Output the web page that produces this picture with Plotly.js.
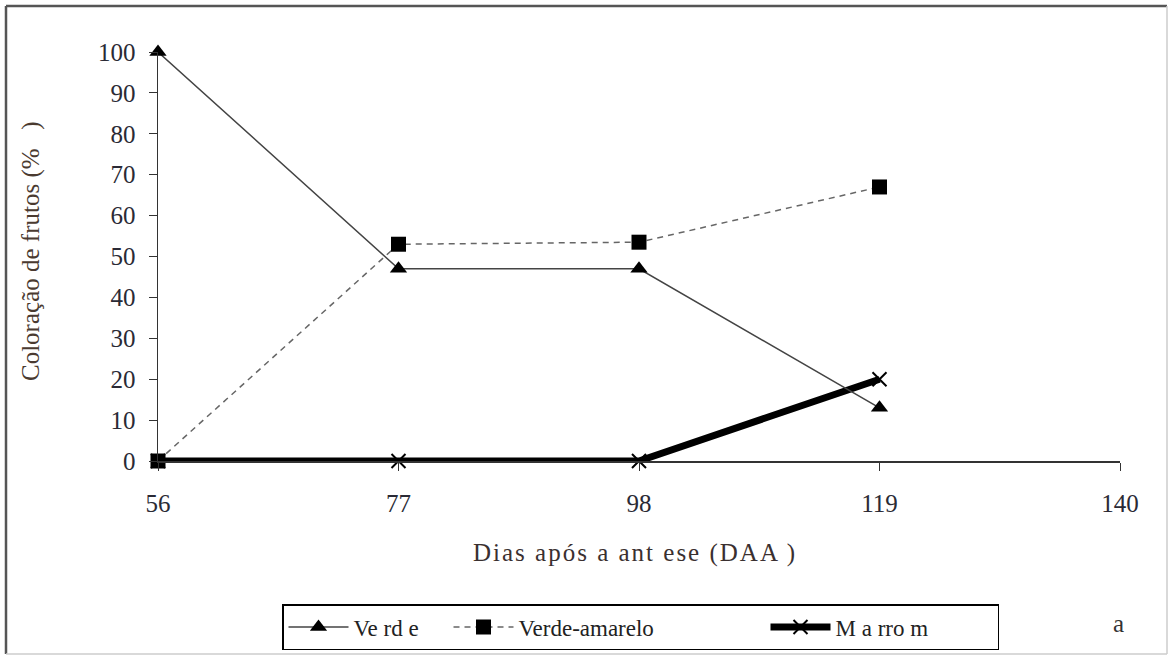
<!DOCTYPE html>
<html><head><meta charset="utf-8">
<script src="https://cdn.plot.ly/plotly-3.0.1.min.js"></script>
<style>body{margin:0;background:#fff}#chart{width:1169px;height:657px}</style>
</head><body><div id="chart"></div>
<script>
const dias = [56, 77, 98, 119];
const verde = [100, 47, 47, 13];
const verdeAmarelo = [0, 53, 53.5, 67];
const marrom = [0, 0, 0, 20];
const xTicks = [56, 77, 98, 119, 140];
const yTicks = [0, 10, 20, 30, 40, 50, 60, 70, 80, 90, 100];
const names = ['Ve rd e', 'Verde-amarelo', 'M a rro m'];

const W = 1169, H = 657, L = 158, R = 49, T = 52, B = 196;
const pw = W - L - R, ph = H - T - B;
const px = x => (x - L) / pw;
const py = y => (H - B - y) / ph;
const font = "Liberation Serif";

const traces = [
  {x: dias, y: marrom, name: names[2], mode: 'lines+markers', legendrank: 3, legendwidth: 157,
   line: {color: '#000', width: 7}, marker: {symbol: 'x-thin-open', size: 14, color: '#000', line: {width: 2, color: '#000'}}, cliponaxis: false},
  {x: dias, y: verde, name: names[0], mode: 'lines+markers', legendrank: 1, legendwidth: 90,
   line: {color: '#444', width: 1.5}, marker: {symbol: 'triangle-up', size: 15, color: '#000'}, cliponaxis: false},
  {x: dias, y: verdeAmarelo, name: names[1], mode: 'lines+markers', legendrank: 2, legendwidth: 242,
   line: {color: '#666', width: 1.5, dash: '6px,5px'}, marker: {symbol: 'square', size: 15, color: '#000'}, cliponaxis: false}
];

const layout = {
  width: W, height: H,
  margin: {l: L, r: R, t: T, b: B, autoexpand: false},
  paper_bgcolor: '#fff', plot_bgcolor: '#fff',
  font: {family: font, size: 25, color: '#2a2a35'},
  showlegend: true,
  legend: {orientation: 'h', xref: 'container', yref: 'container', x: 282 / W, xanchor: 'left', y: 1 - 604 / H, yanchor: 'top',
           bordercolor: '#000', borderwidth: 1.5, bgcolor: '#fff',
           font: {family: font, size: 23, color: '#222'}, itemwidth: 60, tracegroupgap: 0},
  xaxis: {range: [56, 140], tickvals: xTicks, ticktext: xTicks.map(String),
          showline: true, linecolor: '#333', linewidth: 1.5, ticks: 'outside', ticklen: 8, tickcolor: '#333',
          showgrid: false, zeroline: false, ticklabelstandoff: 11, tickfont: {family: font, size: 25}},
  yaxis: {range: [0, 100], tickvals: yTicks, showline: true, linecolor: '#333', linewidth: 1.5,
          ticks: 'outside', ticklen: 8, tickcolor: '#333', showgrid: false, zeroline: false, ticklabelstandoff: 8, tickfont: {family: font, size: 25}},
  annotations: [
    {text: '<span style="letter-spacing:2px">Dias após a ant ese (DAA )</span>', xref: 'paper', yref: 'paper', x: px(635), y: py(553),
     xanchor: 'center', yanchor: 'middle', showarrow: false, font: {family: font, size: 25, color: '#3a3030'}},
    {text: 'Coloração de frutos (%   )', xref: 'paper', yref: 'paper', x: px(31), y: py(251),
     xanchor: 'center', yanchor: 'middle', textangle: -90, showarrow: false, font: {family: font, size: 25, color: '#4a3a30'}},
    {text: 'a', xref: 'paper', yref: 'paper', x: px(1118), y: py(623),
     xanchor: 'center', yanchor: 'middle', showarrow: false, font: {family: font, size: 25, color: '#333'}}
  ],
  shapes: [
    {type: 'line', xref: 'paper', yref: 'paper', x0: px(6), x1: px(1167), y0: py(6), y1: py(6), line: {color: '#555', width: 2.5}},
    {type: 'line', xref: 'paper', yref: 'paper', x0: px(6), x1: px(6), y0: py(6), y1: py(654), line: {color: '#555', width: 2.5}},
    {type: 'line', xref: 'paper', yref: 'paper', x0: px(1167), x1: px(1167), y0: py(6), y1: py(654), line: {color: '#ccc', width: 1.5}},
    {type: 'line', xref: 'paper', yref: 'paper', x0: px(6), x1: px(1167), y0: py(654), y1: py(654), line: {color: '#ccc', width: 1.5}}
  ]
};
Plotly.newPlot('chart', traces, layout, {staticPlot: true, displayModeBar: false});
</script></body></html>
